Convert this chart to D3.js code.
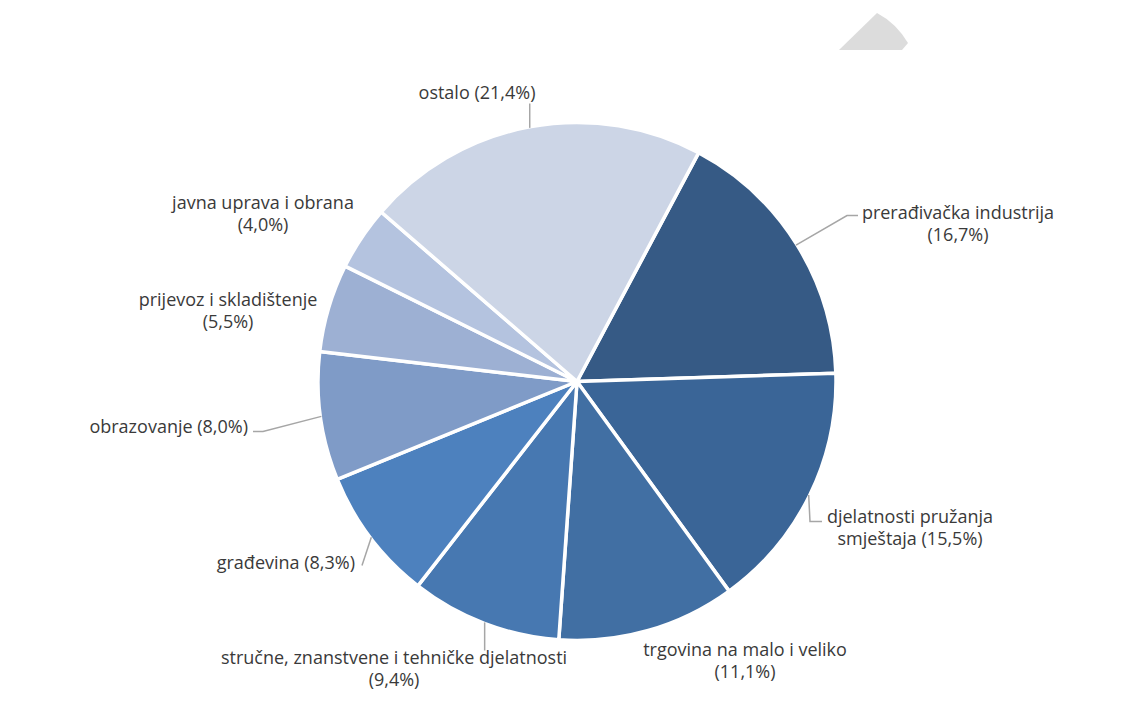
<!DOCTYPE html>
<html><head><meta charset="utf-8">
<script src="https://cdn.jsdelivr.net/npm/d3@7"></script>
<style>html,body{margin:0;padding:0;background:#fff;}svg{display:block;}</style>
</head><body>
<svg id="chart" width="1131" height="706"></svg>
<script>
// ---- data ----
const categories = ["prerađivačka industrija","djelatnosti pružanja smještaja","trgovina na malo i veliko","stručne, znanstvene i tehničke djelatnosti","građevina","obrazovanje","prijevoz i skladištenje","javna uprava i obrana","ostalo"];
const values = [16.7, 15.5, 11.1, 9.4, 8.3, 8.0, 5.5, 4.0, 21.4];
const colors = ["#365a85","#3a6597","#416fa3","#4778b1","#4d81be","#7f9bc7","#9db0d3","#b4c3df","#ccd5e6"];
const labelLines = [
  ["prerađivačka industrija","(16,7%)"],
  ["djelatnosti pružanja","smještaja (15,5%)"],
  ["trgovina na malo i veliko","(11,1%)"],
  ["stručne, znanstvene i tehničke djelatnosti","(9,4%)"],
  ["građevina (8,3%)"],
  ["obrazovanje (8,0%)"],
  ["prijevoz i skladištenje","(5,5%)"],
  ["javna uprava i obrana","(4,0%)"],
  ["ostalo (21,4%)"]
];

// ---- layout (positions relative to pie centre) ----
const cx = 577, cy = 381.5, R = 259;
const labelLayout = [
  {dx: 381, dy: -163, anchor: "middle", leader: [[270,-166],[281,-166]]},
  {dx: 333, dy: 141, anchor: "middle", leader: [[233,140],[245,140]]},
  {dx: 168, dy: 274, anchor: "middle", leader: null},
  {dx: -183, dy: 282, anchor: "middle", leader: [[null,269]]},
  {dx: -222, dy: 187, anchor: "end", leader: [[-215,184]]},
  {dx: -329, dy: 51, anchor: "end", leader: [[-314,50],[-324,50]]},
  {dx: -349, dy: -76, anchor: "middle", leader: null},
  {dx: -314, dy: -173, anchor: "middle", leader: null},
  {dx: -100, dy: -283, anchor: "middle", leader: [[null,-278]]}
];

const svg = d3.select("#chart");

// decorative grey shape at top
svg.append("path")
  .attr("d","M877,13 Q896,23 908,43 L902,50 L839,50 Z")
  .attr("fill","#dcdcdc");

const g = svg.append("g").attr("transform",`translate(${cx},${cy})`);
const startA = 28 * Math.PI/180;
const pie = d3.pie().sort(null).value(d=>d).startAngle(startA).endAngle(startA + 2*Math.PI);
const arcs = pie(values);
const arc = d3.arc().innerRadius(0).outerRadius(R);

g.selectAll("path.slice").data(arcs).join("path")
  .attr("class","slice")
  .attr("d",arc)
  .attr("fill",(d,i)=>colors[i])
  .attr("stroke","#fff")
  .attr("stroke-width",3.5)
  .attr("stroke-linejoin","round");

// leader lines
arcs.forEach((a,i)=>{
  const L = labelLayout[i];
  if(!L.leader) return;
  const mid = (a.startAngle + a.endAngle)/2;
  const sx = Math.sin(mid)*(R-1), sy = -Math.cos(mid)*(R-1);
  const pts = [[sx,sy]].concat(L.leader.map(p=>[p[0]===null?sx:p[0], p[1]]));
  g.append("path")
    .attr("d", d3.line()(pts))
    .attr("fill","none")
    .attr("stroke","#a6a6a6")
    .attr("stroke-width",1.5);
});

// labels
labelLines.forEach((lines,i)=>{
  const L = labelLayout[i];
  const t = g.append("text")
    .attr("x",L.dx).attr("y",L.dy)
    .attr("text-anchor",L.anchor)
    .attr("font-family","'Open Sans', sans-serif")
    .attr("font-size","18px")
    .attr("fill","#3a3a3a");
  lines.forEach((s,k)=>{
    t.append("tspan").attr("x",L.dx).attr("dy",k===0?0:22.5).text(s);
  });
});
</script>
</body></html>
